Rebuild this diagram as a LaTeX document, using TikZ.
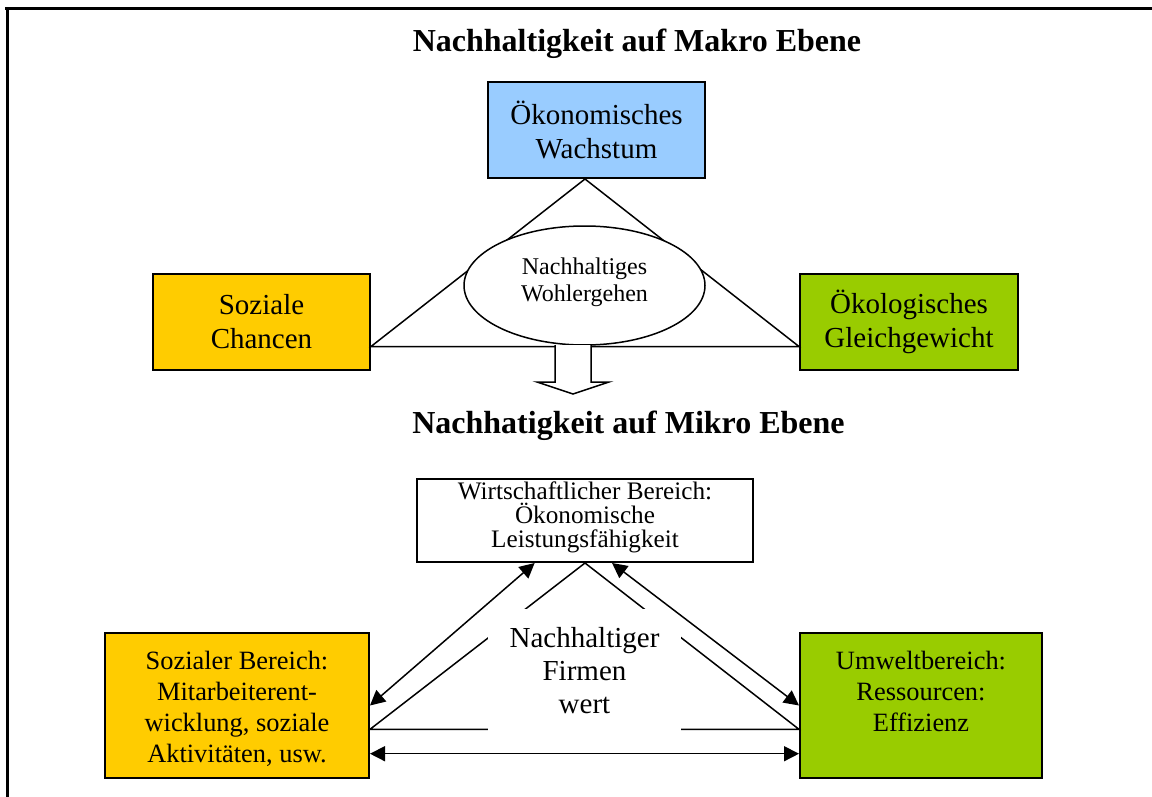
\documentclass[tikz,border=0pt]{standalone}
\usepackage{fontspec}
\setmainfont{Liberation Serif}
\usetikzlibrary{arrows.meta,shapes.geometric,calc}

\definecolor{boxblue}{HTML}{99CCFF}
\definecolor{boxyellow}{HTML}{FFCC00}
\definecolor{boxgreen}{HTML}{99CC00}

\begin{document}
\begin{tikzpicture}[x=0.5pt,y=-0.5pt,
  box/.style={draw, line width=1pt, inner sep=0pt, align=center},
  ln/.style={line width=0.75pt},
  tips/.style={{Triangle[length=7.5pt,width=7.5pt]}-{Triangle[length=7.5pt,width=7.5pt]}, line width=0.75pt},
  title/.style={font=\fontsize{16}{19}\selectfont\bfseries, inner sep=0pt, anchor=base},
  topfont/.style={font=\fontsize{14.5}{17}\selectfont},
  ellfont/.style={font=\fontsize{12}{13.5}\selectfont, align=center, inner sep=0pt},
  wirtfont/.style={font=\fontsize{12.6}{12.2}\selectfont, align=center, inner sep=0pt},
  lowfont/.style={font=\fontsize{13.2}{15.5}\selectfont, align=center, inner sep=0pt},
  firmfont/.style={font=\fontsize{14.5}{16.5}\selectfont, align=center, inner sep=0pt}
]
\useasboundingbox (0,0) rectangle (1152,797);

% page frame
\draw[line width=1.5pt] (5,9) -- (1152,9);
\draw[line width=1.2pt] (7.5,8.25) -- (7.5,797);

% ---------- macro level ----------
\node[title] (t1) at (637,52) {Nachhaltigkeit auf Makro Ebene};

\node[box, fill=boxblue, minimum width=108.5pt, minimum height=48pt, topfont] (wb) at (596.5,130) {Ökonomisches\\Wachstum};
\node[box, fill=boxyellow, minimum width=108.5pt, minimum height=48pt, topfont] (sc) at (261.5,322) {Soziale\\Chancen};
\node[box, fill=boxgreen, minimum width=109pt, minimum height=48pt, topfont] (og) at (909,322) {Ökologisches\\Gleichgewicht};

\coordinate (axis) at (585,0);
\coordinate (mL) at ($(sc.south east)!0.25!(sc.north east)$);
\coordinate (mR) at ($(og.south west)!0.25!(og.north west)$);
\draw[ln] (wb.south -| axis) -- (mL) -- (mR) -- cycle;

\node[draw, ln, fill=white, ellipse, minimum width=120.5pt, minimum height=59.5pt, inner sep=0pt] (wg) at (584.5,285.5) {};
\node[ellfont] (wgt) at (584.5,282) {Nachhaltiges\\Wohlergehen};

% block arrow down to the micro level
\coordinate (dn) at (573,345);
\draw[ln, fill=white] (dn) ++(-18,0) -- ++(0,37) -- ++(-18,0) -- ++(36,12) -- ++(36,-12) -- ++(-18,0) -- ++(0,-37);

% ---------- micro level ----------
\node[title] (t2) at (628.5,433) {Nachhatigkeit auf Mikro Ebene};

\node[box, fill=white, minimum width=168pt, minimum height=41.5pt] (wirt) at (585,520.5) {};
\node[wirtfont, anchor=north] (wirtt) at (585,481) {Wirtschaftlicher Bereich:\\Ökonomische\\Leistungsfähigkeit};

\node[box, fill=boxyellow, minimum width=132pt, minimum height=72.5pt] (sb) at (237,705.5) {};
\node[lowfont, anchor=north] (sbt) at (237,651) {Sozialer Bereich:\\Mitarbeiterent-\\wicklung, soziale\\Aktivitäten, usw.};

\node[box, fill=boxgreen, minimum width=121pt, minimum height=72.5pt] (ub) at (921,705.5) {};
\node[lowfont, anchor=north] (ubt) at (921,651) {Umweltbereich:\\Ressourcen:\\Effizienz};

\coordinate (fL) at ($(sb.south east)!0.338!(sb.north east)$);
\coordinate (fR) at ($(ub.south west)!0.338!(ub.north west)$);
\draw[ln] (wirt.south) -- (fL) -- (fR) -- cycle;

\node[firmfont, fill=white, minimum width=96.5pt, minimum height=62pt] (fw) at (584.5,671) {Nachhaltiger\\Firmen\\wert};

\draw[tips] (sb.east) -- ($(wirt.south west)!0.351!(wirt.south east)$);
\draw[tips] (ub.west) -- ($(wirt.south west)!0.58!(wirt.south east)$);
\draw[tips] ($(sb.south east)!0.172!(sb.north east)$) -- ($(ub.south west)!0.172!(ub.north west)$);
\end{tikzpicture}
\end{document}
